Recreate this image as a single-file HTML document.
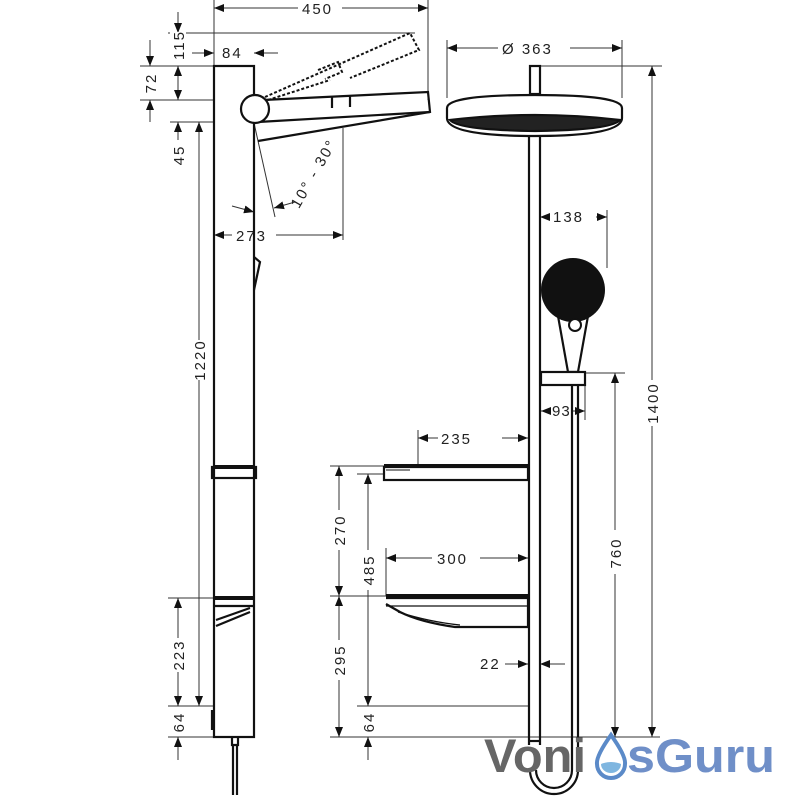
<!DOCTYPE html>
<html><head><meta charset="utf-8"><style>
html,body{margin:0;padding:0;background:#fff}
svg{display:block}
text{font-family:"Liberation Sans",sans-serif;font-size:15px;fill:#222;letter-spacing:2px}
</style></head><body>
<svg width="800" height="800" viewBox="0 0 800 800" xmlns="http://www.w3.org/2000/svg">
<defs>
<marker id="a" viewBox="0 0 10 10" refX="10" refY="5" markerWidth="10" markerHeight="10" markerUnits="userSpaceOnUse" orient="auto-start-reverse"><path d="M0,1 L10,5 L0,9 Z" fill="#111"/></marker>
</defs>
<g stroke="#333" stroke-width="1" fill="none">
<line x1="214" y1="0" x2="214" y2="66"/>
<line x1="428" y1="0" x2="428" y2="100"/>
<line x1="168" y1="33" x2="415" y2="33"/>
<line x1="140" y1="66" x2="214" y2="66"/>
<line x1="140" y1="100" x2="214" y2="100"/>
<line x1="170" y1="122" x2="214" y2="122"/>
<line x1="343" y1="128" x2="343" y2="240"/>
<line x1="168" y1="598" x2="214" y2="598"/>
<line x1="168" y1="706" x2="214" y2="706"/>
<line x1="168" y1="737" x2="214" y2="737"/>
<line x1="214" y1="8" x2="428" y2="8" marker-start="url(#a)" marker-end="url(#a)"/>
<line x1="178" y1="12" x2="178" y2="33" marker-end="url(#a)"/>
<line x1="178" y1="66" x2="178" y2="100" marker-start="url(#a)" marker-end="url(#a)"/>
<line x1="150" y1="40" x2="150" y2="66" marker-end="url(#a)"/>
<line x1="150" y1="122" x2="150" y2="100" marker-end="url(#a)"/>
<line x1="192" y1="53" x2="214" y2="53" marker-end="url(#a)"/>
<line x1="278" y1="53" x2="254" y2="53" marker-end="url(#a)"/>
<line x1="178" y1="170" x2="178" y2="122" marker-end="url(#a)"/>
<line x1="199" y1="706" x2="199" y2="122" marker-start="url(#a)" marker-end="url(#a)"/>
<line x1="178" y1="598" x2="178" y2="706" marker-start="url(#a)" marker-end="url(#a)"/>
<line x1="178" y1="760" x2="178" y2="737" marker-end="url(#a)"/>
<line x1="214" y1="235" x2="343" y2="235" marker-start="url(#a)" marker-end="url(#a)"/>
<line x1="232" y1="206" x2="254" y2="212" marker-end="url(#a)"/>
<line x1="295" y1="202" x2="274" y2="208" marker-end="url(#a)"/>
<line x1="254" y1="123" x2="275" y2="217"/>
</g>
<g fill="#fff" stroke="none">
<rect x="298" y="0" width="44" height="16"/><rect x="170" y="32" width="16" height="26"/>
<rect x="142" y="70" width="16" height="26"/><rect x="170" y="140" width="16" height="30"/>
<rect x="191" y="340" width="16" height="40"/><rect x="170" y="638" width="16" height="34"/>
<rect x="170" y="710" width="16" height="24"/><rect x="232" y="227" width="44" height="16"/>
</g>
<text x="302" y="14">450</text>
<text x="222" y="58">84</text>
<text transform="translate(184,45) rotate(-90)" text-anchor="middle">115</text>
<text transform="translate(156,83) rotate(-90)" text-anchor="middle">72</text>
<text transform="translate(184,155) rotate(-90)" text-anchor="middle">45</text>
<text transform="translate(205,360) rotate(-90)" text-anchor="middle">1220</text>
<text transform="translate(184,655) rotate(-90)" text-anchor="middle">223</text>
<text transform="translate(184,722) rotate(-90)" text-anchor="middle">64</text>
<text x="236" y="241">273</text>
<text transform="translate(318,176) rotate(-60)" text-anchor="middle">10° - 30°</text>
<g stroke="#111" stroke-width="2.2" fill="none">
<rect x="214" y="66" width="40" height="671"/>
<line x1="214" y1="467" x2="254" y2="467" stroke-width="4"/>
<rect x="212" y="467" width="44" height="11"/>
<line x1="214" y1="598" x2="254" y2="598" stroke-width="4"/>
<path d="M214,606 L254,606 M216,620 L250,608 M216,626 L250,612"/>
<path d="M254,257 L260,262 L254,290"/>
<path d="M232,737 L232,745 L238,745 L238,737 M233,745 L233,795 M237,745 L237,795"/>
<line x1="212" y1="710" x2="212" y2="730"/>
<path d="M263,100 L428,92 L430,112 L258,141"/>
<path d="M258,122 L430,112"/>
<circle cx="255" cy="109" r="14" fill="#fff"/>
<path d="M332,96 L332,108 M350,96 L350,107"/>
</g>
<g stroke="#111" stroke-width="2" stroke-dasharray="3,2" fill="none">
<path d="M265,97 L410,33 L419,50 L350,78"/>
<path d="M318,70 L338,62 L342,72 L325,79"/>
<path d="M268,100 L330,80"/>
</g>
<g stroke="#333" stroke-width="1" fill="none">
<line x1="447" y1="40" x2="447" y2="98"/>
<line x1="622" y1="40" x2="622" y2="98"/>
<line x1="540" y1="66" x2="662" y2="66"/>
<line x1="607" y1="210" x2="607" y2="268"/>
<line x1="585" y1="373" x2="625" y2="373"/>
<line x1="585" y1="385" x2="585" y2="420"/>
<line x1="418" y1="430" x2="418" y2="466"/>
<line x1="330" y1="466" x2="384" y2="466"/>
<line x1="357" y1="474" x2="384" y2="474"/>
<line x1="386" y1="548" x2="386" y2="596"/>
<line x1="330" y1="596" x2="386" y2="596"/>
<line x1="357" y1="706" x2="528" y2="706"/>
<line x1="330" y1="737" x2="660" y2="737"/>
<line x1="447" y1="48" x2="622" y2="48" marker-start="url(#a)" marker-end="url(#a)"/>
<line x1="652" y1="737" x2="652" y2="66" marker-start="url(#a)" marker-end="url(#a)"/>
<line x1="540" y1="217" x2="607" y2="217" marker-start="url(#a)" marker-end="url(#a)"/>
<line x1="541" y1="411" x2="585" y2="411" marker-start="url(#a)" marker-end="url(#a)"/>
<line x1="615" y1="737" x2="615" y2="373" marker-start="url(#a)" marker-end="url(#a)"/>
<line x1="418" y1="438" x2="528" y2="438" marker-start="url(#a)" marker-end="url(#a)"/>
<line x1="386" y1="558" x2="528" y2="558" marker-start="url(#a)" marker-end="url(#a)"/>
<line x1="339" y1="466" x2="339" y2="596" marker-start="url(#a)" marker-end="url(#a)"/>
<line x1="339" y1="596" x2="339" y2="737" marker-start="url(#a)" marker-end="url(#a)"/>
<line x1="368" y1="474" x2="368" y2="706" marker-start="url(#a)" marker-end="url(#a)"/>
<line x1="368" y1="760" x2="368" y2="737" marker-end="url(#a)"/>
<line x1="505" y1="664" x2="528" y2="664" marker-end="url(#a)"/>
<line x1="565" y1="664" x2="540" y2="664" marker-end="url(#a)"/>
</g>
<g fill="#fff" stroke="none">
<rect x="498" y="40" width="72" height="16"/><rect x="644" y="380" width="16" height="46"/>
<rect x="550" y="209" width="46" height="16"/><rect x="607" y="530" width="16" height="44"/>
<rect x="438" y="430" width="64" height="16"/><rect x="432" y="550" width="48" height="16"/>
<rect x="331" y="510" width="16" height="40"/><rect x="331" y="640" width="16" height="40"/>
<rect x="360" y="550" width="16" height="40"/><rect x="360" y="710" width="16" height="24"/>
<rect x="551" y="403" width="22" height="16"/>
</g>
<text x="502" y="54">Ø 363</text>
<text transform="translate(658,403) rotate(-90)" text-anchor="middle">1400</text>
<text x="553" y="222">138</text>
<text x="552" y="416" style="letter-spacing:1px">93</text>
<text transform="translate(621,553) rotate(-90)" text-anchor="middle">760</text>
<text x="441" y="444">235</text>
<text x="437" y="564">300</text>
<text transform="translate(345,530) rotate(-90)" text-anchor="middle">270</text>
<text transform="translate(345,660) rotate(-90)" text-anchor="middle">295</text>
<text transform="translate(374,570) rotate(-90)" text-anchor="middle">485</text>
<text transform="translate(374,722) rotate(-90)" text-anchor="middle">64</text>
<text x="480" y="669">22</text>
<g stroke="#111" stroke-width="2.2" fill="none">
<rect x="530" y="66" width="10" height="28"/>
<line x1="529" y1="120" x2="529" y2="745"/>
<line x1="540" y1="120" x2="540" y2="745"/>
<path d="M447,108 Q447,95 535,95 Q622,95 622,108 L622,118 Q622,136 535,136 Q447,136 447,118 Z" fill="#fff"/>
<path d="M450,120 Q535,110 620,120 Q612,130 535,131 Q458,130 450,120 Z" fill="#222"/>
<path d="M558,316 L588,316 L578,372 L568,372 Z" fill="#fff"/>
<rect x="541" y="372" width="44" height="13" fill="#fff"/>
<line x1="572" y1="385" x2="572" y2="745"/>
<line x1="578" y1="385" x2="578" y2="745"/>
<path d="M578,745 L578,770 A24,24 0 0 1 530,770"/>
<path d="M572,745 L572,770 A18,18 0 0 1 536,770"/>
<line x1="529" y1="741" x2="540" y2="741"/>
<path d="M384,466 L528,466" stroke-width="4"/>
<rect x="384" y="467" width="144" height="13" fill="#fff"/>
<line x1="386" y1="470" x2="410" y2="470" stroke-width="1"/>
<path d="M386,596 L528,596" stroke-width="4"/>
<path d="M386,598 L528,598 L528,627 L455,627 Q420,622 400,612 L386,604"/>
<path d="M386,606 L528,606 M398,612 Q430,622 460,625" stroke-width="1.2"/>
</g>
<circle cx="573" cy="290" r="32" fill="#111"/>
<circle cx="575" cy="325" r="6" fill="#fff" stroke="#111" stroke-width="2"/>
<text x="484" y="772" style="font-size:47px;font-weight:bold;fill:#666;letter-spacing:0" textLength="102" lengthAdjust="spacingAndGlyphs">Voni</text>
<path d="M611,735 Q596,756 597,764 A14,14 0 0 0 625,764 Q626,756 611,735 Z" fill="#fff" stroke="#5b8ac8" stroke-width="4"/>
<path d="M601,764 Q611,760 621,764 A10,9 0 0 1 601,764 Z" fill="#7fb6e0"/>
<text x="627" y="772" style="font-size:47px;font-weight:bold;fill:#6f8fc8;letter-spacing:0" textLength="148" lengthAdjust="spacingAndGlyphs">sGuru</text>
</svg>
</body></html>
